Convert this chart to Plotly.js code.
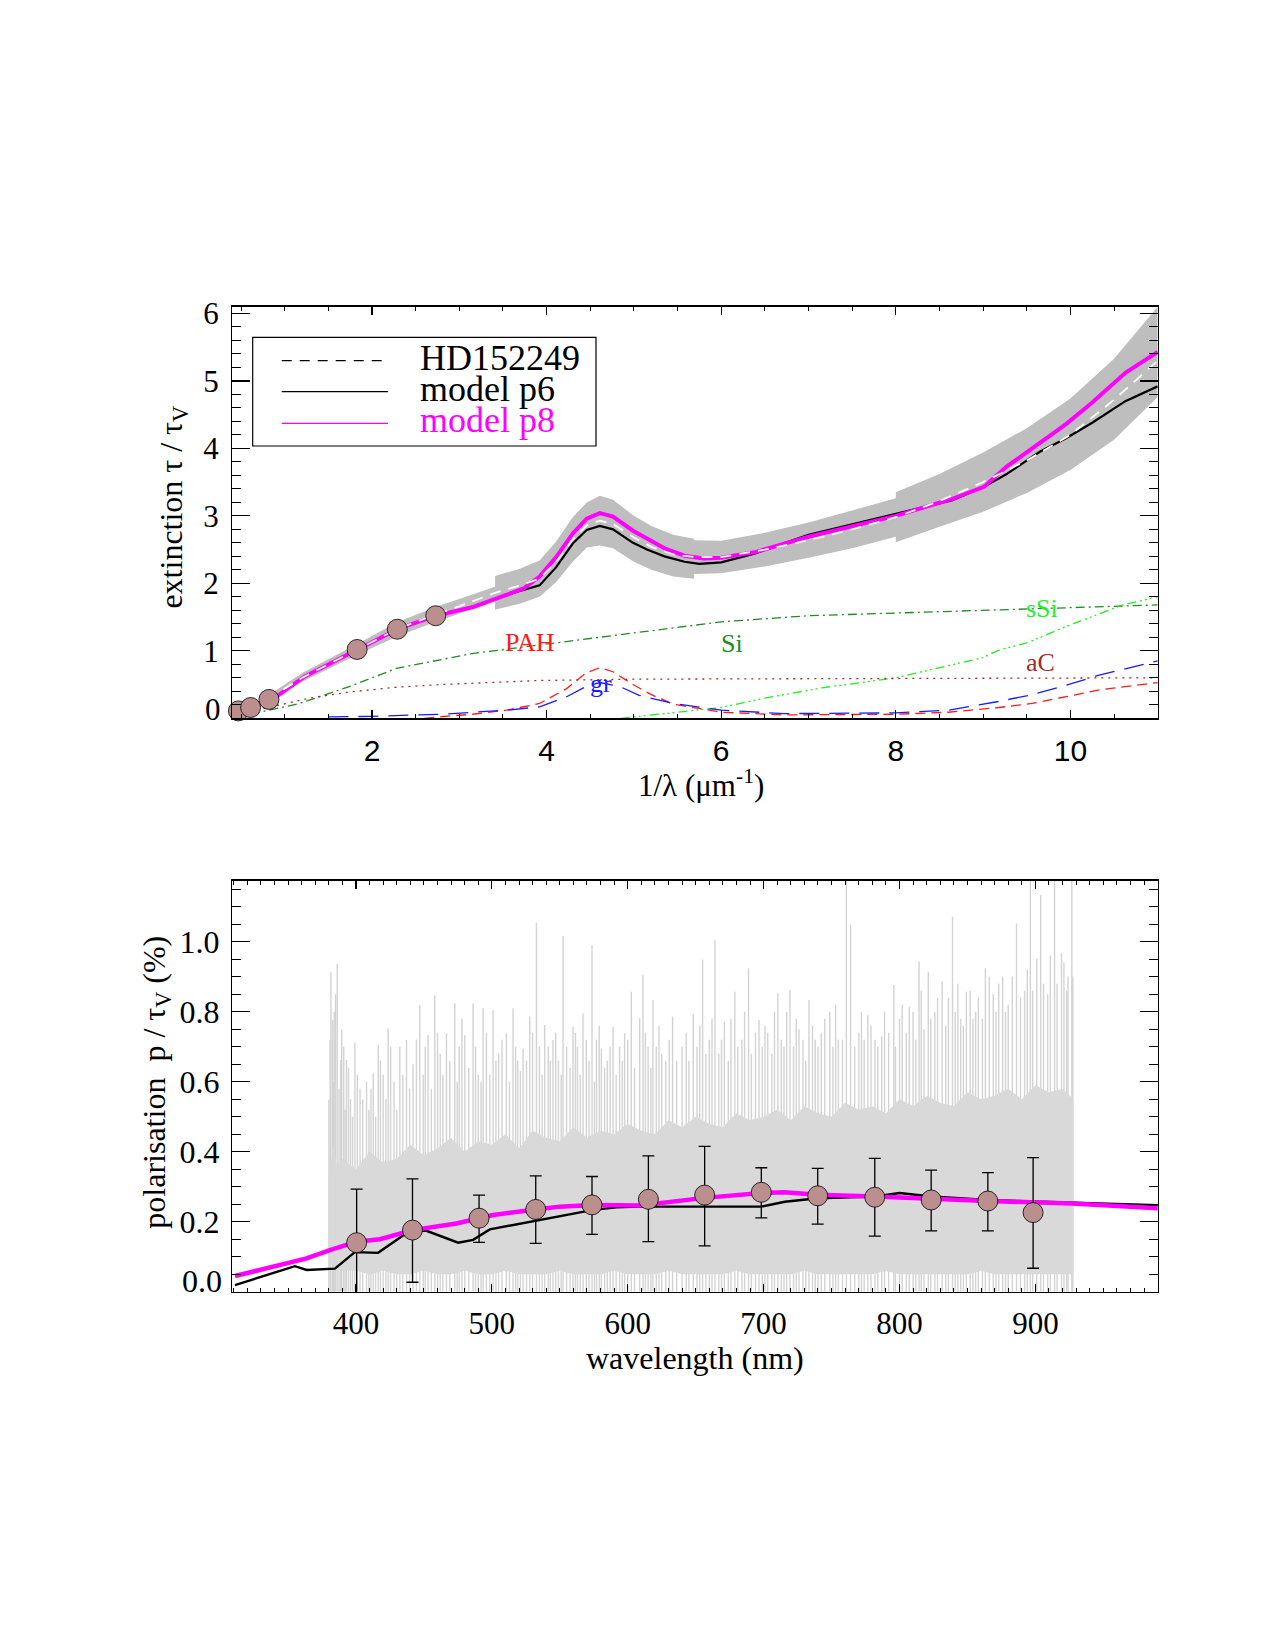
<!DOCTYPE html>
<html>
<head>
<meta charset="utf-8">
<script src="https://cdn.plot.ly/plotly-3.0.1.min.js"></script>
<style>html,body{margin:0;padding:0;background:#fff;}#chart{width:1275px;height:1650px;}</style>
</head>
<body>
<div id="chart"></div>
<script>
// ---------------- TOP PANEL DATA (1/lambda in um^-1, tau/tauV) ----------------
const obsPhotX = [0.47, 0.61, 0.82, 1.83, 2.29, 2.73];
const obsPhotY = [0.11, 0.16, 0.28, 1.02, 1.32, 1.52];

const bandX  = [0.8, 1.2, 1.83, 2.3, 2.73, 3.0, 3.41, 3.41, 3.7, 3.92, 4.11, 4.3, 4.46, 4.61, 4.76, 5.0, 5.2, 5.45, 5.69, 5.69, 6.0, 6.5, 7.0, 7.5, 8.0, 8.0, 8.5, 9.0, 9.5, 10.0, 10.5, 11.0];
const bandLo = [0.24, 0.54, 0.94, 1.22, 1.43, 1.55, 1.76, 1.61, 1.70, 1.80, 2.02, 2.32, 2.53, 2.56, 2.52, 2.32, 2.20, 2.10, 2.07, 2.14, 2.15, 2.25, 2.38, 2.52, 2.69, 2.61, 2.84, 3.06, 3.34, 3.68, 4.13, 4.76];
const bandHi = [0.33, 0.67, 1.10, 1.43, 1.65, 1.77, 1.95, 2.11, 2.22, 2.34, 2.62, 2.98, 3.20, 3.30, 3.24, 3.00, 2.85, 2.72, 2.66, 2.64, 2.63, 2.75, 2.90, 3.08, 3.26, 3.35, 3.62, 3.94, 4.30, 4.74, 5.33, 6.10];

const hdX = [0.8, 1.2, 1.83, 2.3, 2.73, 3.0, 3.41, 3.7, 3.92, 4.11, 4.3, 4.46, 4.61, 4.76, 5.0, 5.2, 5.45, 5.69, 6.0, 6.5, 7.0, 7.5, 8.0, 8.5, 9.0, 9.5, 10.0, 10.5, 11.0];
const hdY = [0.28, 0.60, 1.02, 1.33, 1.54, 1.66, 1.86, 1.97, 2.07, 2.32, 2.65, 2.86, 2.93, 2.88, 2.68, 2.54, 2.43, 2.39, 2.39, 2.50, 2.64, 2.80, 2.98, 3.22, 3.50, 3.82, 4.20, 4.72, 5.30];

const p6X = [0.45, 0.61, 0.82, 0.93, 1.23, 1.83, 2.29, 2.73, 3.16, 3.54, 3.73, 3.92, 4.11, 4.3, 4.46, 4.61, 4.76, 4.99, 5.15, 5.35, 5.58, 5.75, 6.0, 6.38, 7.0, 7.5, 8.0, 8.64, 9.01, 9.27, 9.65, 9.95, 10.25, 10.63, 11.0];
const p6Y = [0.10, 0.17, 0.28, 0.345, 0.62, 1.02, 1.32, 1.52, 1.65, 1.83, 1.90, 1.97, 2.24, 2.59, 2.79, 2.85, 2.80, 2.60, 2.50, 2.40, 2.32, 2.29, 2.31, 2.44, 2.72, 2.87, 3.03, 3.23, 3.43, 3.62, 3.95, 4.15, 4.38, 4.70, 4.92];

const p8X = [0.45, 0.61, 0.82, 0.93, 1.23, 1.83, 2.29, 2.73, 3.16, 3.54, 3.73, 3.92, 4.11, 4.3, 4.46, 4.61, 4.76, 4.99, 5.15, 5.35, 5.58, 5.8, 6.0, 6.38, 7.0, 7.5, 8.0, 8.64, 9.01, 9.27, 9.65, 9.95, 10.25, 10.63, 11.0];
const p8Y = [0.10, 0.17, 0.28, 0.345, 0.62, 1.02, 1.32, 1.52, 1.65, 1.83, 1.92, 2.10, 2.39, 2.74, 2.96, 3.04, 2.99, 2.78, 2.66, 2.52, 2.41, 2.37, 2.38, 2.46, 2.69, 2.84, 3.00, 3.25, 3.43, 3.73, 4.08, 4.36, 4.68, 5.12, 5.43];

const siX  = [0.4, 0.68, 1.17, 1.74, 2.28, 3.15, 3.92, 5.06, 6.0, 7.0, 8.0, 9.27, 10.6, 11.0];
const siY  = [0.0, 0.08, 0.22, 0.47, 0.74, 0.96, 1.09, 1.28, 1.43, 1.52, 1.56, 1.62, 1.67, 1.68];
const sSiX = [4.85, 5.45, 6.0, 6.5, 7.15, 8.0, 9.0, 9.18, 9.53, 9.95, 10.6, 11.0];
const sSiY = [0.0, 0.08, 0.16, 0.30, 0.45, 0.60, 0.90, 1.01, 1.13, 1.36, 1.68, 1.80];
const aCX  = [0.45, 0.68, 0.95, 1.29, 1.74, 2.28, 2.78, 3.92, 5.0, 8.0, 11.0];
const aCY  = [0.02, 0.12, 0.20, 0.30, 0.39, 0.46, 0.50, 0.56, 0.58, 0.59, 0.60];
const pahX = [2.6, 2.75, 3.15, 3.54, 3.92, 4.23, 4.45, 4.61, 4.76, 4.99, 5.2, 5.45, 6.0, 6.72, 8.0, 8.6, 9.18, 9.56, 9.95, 10.33, 11.0];
const pahY = [0.0, 0.02, 0.06, 0.12, 0.22, 0.44, 0.67, 0.75, 0.69, 0.50, 0.35, 0.21, 0.09, 0.05, 0.06, 0.09, 0.16, 0.22, 0.32, 0.42, 0.53];
const grX  = [1.5, 2.0, 2.8, 3.54, 3.92, 4.23, 4.45, 4.61, 4.84, 5.06, 5.45, 6.0, 6.72, 8.0, 8.6, 9.18, 9.56, 9.95, 10.33, 11.0];
const grY  = [0.02, 0.03, 0.06, 0.12, 0.17, 0.32, 0.47, 0.53, 0.47, 0.34, 0.22, 0.12, 0.07, 0.08, 0.12, 0.25, 0.35, 0.49, 0.64, 0.85];

const compLabels = ['PAH', 'Si', 'sSi', 'aC', 'gr'];
const compLabelX = [3.81, 6.12, 9.67, 9.66, 4.62];
const compLabelY = [1.13, 1.11, 1.63, 0.82, 0.51];
const compColors = ['#ff1a1a', '#228b22', '#22ee22', '#a52a2a', '#1a1aff'];

const legendNames = ['HD152249', 'model p6', 'model p8'];

// ---------------- BOTTOM PANEL DATA (wavelength nm, p/tauV %) ----------------
const polWl   = [400.5, 441.6, 490.6, 532.3, 573.7, 615.2, 656.6, 698.3, 739.8, 781.8, 823.3, 865.0, 898.3];
const polVal  = [0.140, 0.176, 0.210, 0.235, 0.248, 0.264, 0.276, 0.284, 0.274, 0.270, 0.262, 0.259, 0.226];
const polTop  = [0.293, 0.322, 0.276, 0.331, 0.329, 0.388, 0.415, 0.354, 0.352, 0.381, 0.347, 0.340, 0.383];
const polBot  = [-0.01, 0.027, 0.141, 0.138, 0.164, 0.143, 0.131, 0.211, 0.193, 0.159, 0.174, 0.174, 0.067];

const polP8Wl = [311, 363.7, 380.8, 400.5, 417.6, 441.6, 474, 490.6, 500.9, 532.3, 549.9, 573.7, 608.8, 656.6, 698.3, 715.6, 739.8, 781.8, 823.3, 865, 926.8, 991.7];
const polP8   = [0.045, 0.095, 0.119, 0.143, 0.150, 0.176, 0.195, 0.210, 0.219, 0.235, 0.243, 0.248, 0.246, 0.268, 0.282, 0.284, 0.277, 0.272, 0.265, 0.259, 0.252, 0.238];
const polP6Wl = [311, 355.1, 363.7, 384.5, 399.2, 416.3, 439.7, 451.9, 475.2, 486.2, 498.5, 532.3, 549.9, 573.7, 591.6, 608.8, 698.3, 715.6, 739.8, 781.8, 800.1, 823.3, 865, 926.8, 991.7];
const polP6   = [0.019, 0.073, 0.062, 0.066, 0.113, 0.111, 0.174, 0.174, 0.140, 0.148, 0.178, 0.203, 0.217, 0.233, 0.241, 0.243, 0.243, 0.257, 0.267, 0.272, 0.282, 0.272, 0.262, 0.254, 0.247];

// noisy observed polarisation spectrum: dense band and the visible spike tops
const specWl  = [380, 383, 386, 390, 400, 410, 420, 430, 440, 450, 460, 470, 480, 490, 500, 510, 520, 530, 540, 550, 560, 570, 580, 590, 600, 610, 620, 630, 640, 650, 660, 670, 680, 690, 700, 710, 720, 730, 740, 750, 760, 770, 780, 790, 800, 810, 820, 830, 840, 850, 860, 870, 880, 890, 900, 910, 920, 928];
const specLo  = [0.10, 0.08, 0.07, 0.06, 0.06, 0.05, 0.06, 0.05, 0.05, 0.06, 0.05, 0.05, 0.06, 0.05, 0.05, 0.06, 0.05, 0.05, 0.05, 0.06, 0.05, 0.05, 0.05, 0.06, 0.05, 0.05, 0.05, 0.06, 0.05, 0.05, 0.05, 0.05, 0.06, 0.05, 0.05, 0.05, 0.05, 0.06, 0.05, 0.05, 0.05, 0.05, 0.05, 0.06, 0.05, 0.05, 0.05, 0.05, 0.05, 0.05, 0.06, 0.05, 0.05, 0.05, 0.05, 0.05, 0.05, 0.05];
const specMid = [0.30, 0.42, 0.36, 0.38, 0.35, 0.40, 0.37, 0.38, 0.42, 0.39, 0.41, 0.44, 0.40, 0.43, 0.42, 0.45, 0.41, 0.46, 0.44, 0.43, 0.47, 0.44, 0.46, 0.45, 0.48, 0.46, 0.45, 0.49, 0.47, 0.50, 0.48, 0.47, 0.51, 0.49, 0.50, 0.52, 0.49, 0.53, 0.51, 0.50, 0.54, 0.52, 0.53, 0.51, 0.55, 0.53, 0.56, 0.54, 0.53, 0.57, 0.55, 0.56, 0.58, 0.55, 0.59, 0.57, 0.58, 0.55];
const spikeWl  = [380.1, 381, 381.6, 382.8, 383.5, 384, 385, 386.2, 387.5, 388.7, 389.5, 391, 392, 393, 394.5, 396, 397.5, 399.2, 401, 403, 405, 407.8, 409.5, 411, 412.7, 414.5, 416.4, 418, 420, 422, 423.7, 425.5, 428, 430, 432.3, 434.5, 437.2, 439.5, 442, 444.5, 447, 449.5, 451, 453.1, 455.5, 458, 460, 462, 464, 466.6, 469, 472.7, 474.5, 476, 478, 480.1, 483, 486.2, 488, 490, 492, 493.6, 496, 498.5, 500.9, 503, 505, 507.5, 510.7, 513, 515.6, 517.5, 519, 521, 523, 525.5, 527.9, 530, 532.8, 535, 537, 538.9, 541.5, 543, 545, 547, 549, 551, 552.4, 555, 557.5, 559.7, 561.5, 563, 565, 567.1, 569.5, 571.5, 573.7, 575.5, 577, 579, 580.6, 583, 585, 587, 589.2, 591.5, 594, 596, 597.7, 600, 602.6, 605, 608.8, 611.2, 613, 615, 617, 618.6, 621, 623, 625, 628, 630.5, 633, 636, 640, 643, 645, 648.2, 651, 653, 655.1, 657.5, 660, 662, 664.2, 667, 669, 671.1, 674, 676, 678.8, 681, 684, 686, 688.9, 691, 694, 696.6, 699, 701, 703, 706, 708, 710.5, 713, 715, 717, 719.4, 722, 724, 726, 729, 731, 733.4, 736, 738, 740, 742.4, 745, 748.7, 751, 753, 755, 758, 760.9, 764, 767, 770, 772, 774, 776.7, 779, 782, 784, 786.9, 789, 792, 795.8, 797, 800, 802, 805, 807.2, 810, 812, 814.4, 816, 818, 821.2, 823, 826, 828, 831.4, 834, 836, 839, 841, 843, 845, 847, 849.2, 852, 854, 856, 858, 861, 863.2, 866, 869, 871, 873, 875.9, 878, 880, 883, 886.1, 889, 892, 894, 896.3, 898, 901, 903.9, 906, 909, 911, 914.1, 916, 919.2, 921, 923, 924, 926.8, 927.5];
const spikeTop = [0.548, 0.72, 0.914, 0.776, 0.60, 0.80, 0.85, 0.936, 0.58, 0.662, 0.75, 0.70, 0.52, 0.662, 0.64, 0.55, 0.50, 0.711, 0.62, 0.58, 0.55, 0.60, 0.52, 0.58, 0.624, 0.50, 0.705, 0.66, 0.62, 0.55, 0.752, 0.70, 0.60, 0.52, 0.70, 0.62, 0.719, 0.58, 0.65, 0.72, 0.819, 0.62, 0.70, 0.733, 0.58, 0.847, 0.74, 0.68, 0.62, 0.738, 0.66, 0.824, 0.60, 0.70, 0.78, 0.733, 0.64, 0.824, 0.70, 0.62, 0.60, 0.81, 0.74, 0.62, 0.805, 0.66, 0.68, 0.72, 0.738, 0.60, 0.81, 0.70, 0.66, 0.63, 0.695, 0.66, 0.786, 0.74, 1.054, 0.70, 0.62, 0.762, 0.70, 0.66, 0.719, 0.74, 0.66, 0.62, 1.016, 0.70, 0.64, 0.757, 0.74, 0.70, 0.62, 0.795, 0.72, 0.66, 0.99, 0.60, 0.72, 0.76, 0.695, 0.64, 0.66, 0.70, 0.757, 0.62, 0.70, 0.66, 0.738, 0.72, 0.857, 0.64, 0.781, 0.905, 0.74, 0.70, 0.64, 0.833, 0.70, 0.76, 0.68, 0.66, 0.72, 0.786, 0.66, 0.70, 0.74, 0.66, 0.793, 0.70, 0.76, 0.948, 0.68, 0.72, 0.78, 1.005, 0.68, 0.72, 0.771, 0.66, 0.78, 0.857, 0.70, 0.72, 0.80, 0.924, 0.68, 0.74, 0.776, 0.70, 0.76, 0.74, 0.68, 0.80, 0.852, 0.72, 0.70, 0.80, 0.862, 0.70, 0.78, 0.75, 0.72, 0.66, 0.833, 0.76, 0.72, 0.70, 0.738, 0.78, 0.80, 0.70, 0.82, 0.72, 0.72, 1.20, 1.048, 0.70, 0.74, 0.80, 0.72, 0.79, 0.76, 0.72, 0.70, 0.729, 0.80, 0.74, 0.876, 0.70, 0.78, 0.82, 0.74, 0.814, 0.80, 0.72, 0.943, 0.86, 0.75, 0.914, 0.78, 0.80, 0.84, 0.886, 0.76, 0.84, 1.071, 0.80, 0.88, 0.78, 0.76, 0.857, 0.86, 0.78, 0.80, 0.84, 0.78, 0.924, 0.90, 0.85, 0.80, 0.88, 0.90, 0.80, 0.82, 0.90, 1.052, 0.84, 0.86, 0.92, 1.20, 0.86, 0.95, 1.133, 0.88, 0.85, 0.96, 1.20, 0.88, 0.967, 0.94, 0.86, 0.90, 1.20, 0.90];

// ---------------- helpers ----------------
const W = 1275, H = 1650;
const px = v => v / W;
const py = v => 1 - v / H;
const serif = 'Liberation Serif, Times New Roman, serif';
const sans = 'Liberation Sans, Arial, sans-serif';
const pink = '#ff00ff';
const dotFill = '#bc8f8f';

const traces = [];
// top panel
traces.push({x: bandX, y: bandLo, xaxis: 'x', yaxis: 'y', mode: 'lines', line: {width: 0, color: '#bebebe'}});
traces.push({x: bandX, y: bandHi, xaxis: 'x', yaxis: 'y', mode: 'lines', line: {width: 0, color: '#bebebe'}, fill: 'tonexty', fillcolor: '#bebebe'});
traces.push({x: siX, y: siY, mode: 'lines', line: {color: compColors[1], width: 1.3, dash: '9px,4px,2px,4px'}});
traces.push({x: sSiX, y: sSiY, mode: 'lines', line: {color: compColors[2], width: 1.3, dash: '9px,4px,2px,3px,2px,3px,2px,4px'}});
traces.push({x: aCX, y: aCY, mode: 'lines', line: {color: compColors[3], width: 1.3, dash: '2px,5px'}});
traces.push({x: pahX, y: pahY, mode: 'lines', line: {color: compColors[0], width: 1.3, dash: '10px,6px'}});
traces.push({x: grX, y: grY, mode: 'lines', line: {color: compColors[4], width: 1.3, dash: '20px,10px'}});
traces.push({x: p6X, y: p6Y, mode: 'lines', line: {color: 'black', width: 2.2}});
traces.push({x: p8X, y: p8Y, mode: 'lines', line: {color: pink, width: 4}});
traces.push({x: hdX, y: hdY, mode: 'lines', line: {color: 'white', width: 1.8, dash: '11px,8px'}});
traces.push({x: obsPhotX, y: obsPhotY, mode: 'markers', marker: {size: 20, color: dotFill, line: {color: 'black', width: 0.8}}, cliponaxis: false});

// bottom panel
const sx = [], sy = [];
spikeWl.forEach((w, i) => { sx.push(w, w, null); sy.push(0, spikeTop[i], null); });
traces.push({x: sx, y: sy, xaxis: 'x2', yaxis: 'y2', mode: 'lines', line: {color: '#d3d3d3', width: 1.4}, connectgaps: false});
const fillX = specWl.concat(specWl.slice().reverse());
traces.push({x: fillX, y: specLo.concat(specMid.slice().reverse()), xaxis: 'x2', yaxis: 'y2', mode: 'lines', fill: 'toself', fillcolor: '#d9d9d9', line: {width: 0}});
traces.push({x: polP6Wl, y: polP6, xaxis: 'x2', yaxis: 'y2', mode: 'lines', line: {color: 'black', width: 2.4}});
traces.push({x: polP8Wl, y: polP8, xaxis: 'x2', yaxis: 'y2', mode: 'lines', line: {color: pink, width: 4.5}});
traces.push({
  x: polWl, y: polVal, xaxis: 'x2', yaxis: 'y2', mode: 'markers',
  marker: {size: 20, color: dotFill, line: {color: 'black', width: 0.8}},
  error_y: {type: 'data', symmetric: false,
            array: polTop.map((t, i) => t - polVal[i]),
            arrayminus: polBot.map((b, i) => polVal[i] - b),
            color: 'black', thickness: 1.3, width: 6}
});

const axBase = {showline: true, linecolor: 'black', linewidth: 1.3, mirror: 'ticks', ticks: 'inside',
  tickcolor: 'black', tickwidth: 1.2, showgrid: false, zeroline: false, fixedrange: true};

const layout = {
  width: W, height: H, margin: {l: 0, r: 0, t: 0, b: 0},
  paper_bgcolor: 'white', plot_bgcolor: 'white', showlegend: false,
  xaxis: Object.assign({}, axBase, {
    domain: [px(232.3), px(1157.7)], anchor: 'y', range: [0.4, 11],
    tickmode: 'linear', tick0: 0, dtick: 2, ticklen: 8,
    minor: {tick0: 0, dtick: 0.5, ticklen: 4, ticks: 'inside', tickcolor: 'black', tickwidth: 1},
    tickfont: {family: sans, size: 30, color: 'black'}, ticklabelstandoff: 5
  }),
  yaxis: Object.assign({}, axBase, {
    domain: [py(718.3), py(306.7)], anchor: 'x', range: [0, 6.1],
    tickmode: 'array', tickvals: [0, 1, 2, 3, 4, 5, 6], ticktext: ['', '1', '2', '3', '4', '5', '6'],
    ticklen: 18,
    minor: {tick0: 0, dtick: 0.2, ticklen: 9, ticks: 'inside', tickcolor: 'black', tickwidth: 1},
    tickfont: {family: serif, size: 31, color: 'black'}, ticklabelstandoff: 6
  }),
  xaxis2: Object.assign({}, axBase, {
    domain: [px(232.3), px(1157.7)], anchor: 'y2', range: [309, 990],
    tickmode: 'linear', tick0: 0, dtick: 100, ticklen: 8,
    minor: {tick0: 0, dtick: 10, ticklen: 4, ticks: 'inside', tickcolor: 'black', tickwidth: 1},
    tickfont: {family: serif, size: 31, color: 'black'}, ticklabelstandoff: 4
  }),
  yaxis2: Object.assign({}, axBase, {
    domain: [py(1291.7), py(880.7)], anchor: 'x2', range: [0, 1.174],
    tickmode: 'array', tickvals: [0, 0.2, 0.4, 0.6, 0.8, 1.0], ticktext: ['', '0.2', '0.4', '0.6', '0.8', '1.0'],
    ticklen: 18,
    minor: {tick0: 0, dtick: 0.05, ticklen: 9, ticks: 'inside', tickcolor: 'black', tickwidth: 1},
    tickfont: {family: serif, size: 32, color: 'black'}, ticklabelstandoff: 5
  }),
  shapes: [
    {type: 'rect', xref: 'paper', yref: 'paper', x0: px(252.7), x1: px(596), y0: py(446), y1: py(337.3), line: {color: 'black', width: 1.2}, fillcolor: 'white', layer: 'above'},
    {type: 'line', xref: 'paper', yref: 'paper', x0: px(281.7), x1: px(388), y0: py(360.7), y1: py(360.7), line: {color: 'black', width: 1.2, dash: '10px,8px'}, layer: 'above'},
    {type: 'line', xref: 'paper', yref: 'paper', x0: px(281.7), x1: px(388), y0: py(391.7), y1: py(391.7), line: {color: 'black', width: 1.2}, layer: 'above'},
    {type: 'line', xref: 'paper', yref: 'paper', x0: px(281.7), x1: px(388), y0: py(423.3), y1: py(423.3), line: {color: pink, width: 1.2}, layer: 'above'}
  ],
  annotations: []
};

const ann = layout.annotations;
// legend texts
const legColors = ['black', 'black', pink];
const legY = [358, 389, 420];
legendNames.forEach((t, i) => ann.push({xref: 'paper', yref: 'paper', x: px(418), y: py(legY[i]), xanchor: 'left', yanchor: 'middle',
  text: t, showarrow: false, font: {family: serif, size: 36, color: legColors[i]}}));
// component labels
compLabels.forEach((t, i) => ann.push({xref: 'x', yref: 'y', x: compLabelX[i], y: compLabelY[i], text: t, showarrow: false,
  xanchor: 'center', yanchor: 'middle', font: {family: serif, size: 26, color: compColors[i]}}));
// axis titles
ann.push({xref: 'paper', yref: 'paper', x: px(700.6), y: py(784), xanchor: 'center', yanchor: 'middle', showarrow: false,
  text: '1/\u03bb (\u03bcm<sup>-1</sup>)', font: {family: serif, size: 31, color: 'black'}});
ann.push({xref: 'paper', yref: 'paper', x: px(173.6), y: py(507), xanchor: 'center', yanchor: 'middle', showarrow: false, textangle: -90,
  text: 'extinction \u03c4 / \u03c4<sub>V</sub>', font: {family: serif, size: 32, color: 'black'}});
ann.push({xref: 'paper', yref: 'paper', x: px(695.4), y: py(1358), xanchor: 'center', yanchor: 'middle', showarrow: false,
  text: 'wavelength (nm)', font: {family: serif, size: 32, color: 'black'}});
ann.push({xref: 'paper', yref: 'paper', x: px(155.7), y: py(1082), xanchor: 'center', yanchor: 'middle', showarrow: false, textangle: -90,
  text: 'polarisation&nbsp; p / \u03c4<sub>V</sub> (%)', font: {family: serif, size: 32, color: 'black'}});
// zero tick labels (drawn slightly above the axis as in the original)
ann.push({xref: 'paper', yref: 'paper', x: px(223), y: py(709), xanchor: 'right', yanchor: 'middle', showarrow: false,
  text: '0', font: {family: serif, size: 31, color: 'black'}});
ann.push({xref: 'paper', yref: 'paper', x: px(224), y: py(1281), xanchor: 'right', yanchor: 'middle', showarrow: false,
  text: '0.0', font: {family: serif, size: 32, color: 'black'}});

traces.forEach(t => { if (!t.xaxis) { t.xaxis = 'x'; t.yaxis = 'y'; } t.hoverinfo = 'skip'; });

Plotly.newPlot('chart', traces, layout, {staticPlot: true, displayModeBar: false});
</script>
</body>
</html>
